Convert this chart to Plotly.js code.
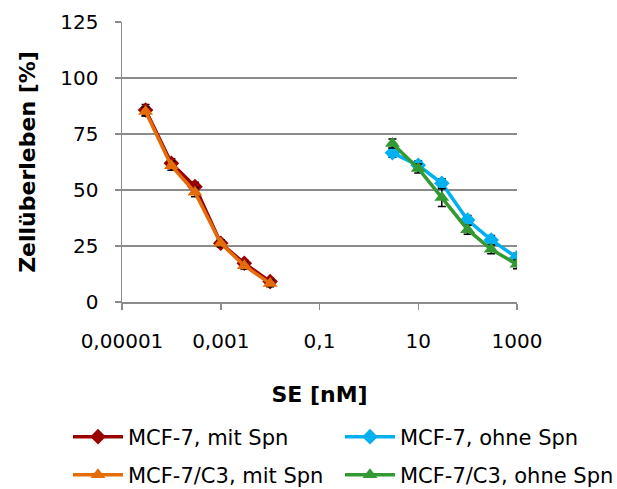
<!DOCTYPE html>
<html>
<head>
<meta charset="utf-8">
<script src="https://cdn.plot.ly/plotly-3.0.1.min.js"></script>
<style>html,body{margin:0;padding:0;background:#fff;}#chart{width:617px;height:489px;}</style>
</head>
<body>
<div id="chart"></div>
<script>
// Concentrations (nM)
const xMit = [3e-5, 1e-4, 3e-4, 1e-3, 3e-3, 1e-2];
const xOhne = [3, 10, 30, 100, 300, 1000];

// Survival (%)
const mcf7Mit = [85.7, 61.9, 51.5, 26.2, 17.3, 9.1];
const mcf7MitErr = [2.5, 2, 2, 1.5, 1.5, 1.5];
const mcf7Ohne = [66.6, 61.0, 53.0, 36.6, 27.7, 19.8];
const mcf7OhneErr = [2, 2, 2, 2, 2, 2];
const c3Mit = [85.0, 60.8, 49.0, 26.2, 16.2, 8.3];
const c3MitErr = [2, 2, 2, 1.5, 1.5, 1.5];
const c3Ohne = [70.8, 59.6, 46.6, 32.3, 23.5, 16.8];
const c3OhneErr = [2, 2, 4, 2, 2, 2];

const names = ["MCF-7, mit Spn", "MCF-7, ohne Spn", "MCF-7/C3, mit Spn", "MCF-7/C3, ohne Spn"];
const colors = ["#990000", "#00B0F0", "#E46C0A", "#339933"];

const xTickVals = [1e-5, 1e-3, 0.1, 10, 1000];
const xTickText = ["0,00001", "0,001", "0,1", "10", "1000"];
const yTickVals = [0, 25, 50, 75, 100, 125];

function tr(x, y, err, i, sym, size, leg) {
  return {
    x: x, y: y, name: names[i], type: "scatter", mode: "lines+markers",
    legend: leg,
    line: {color: colors[i], width: 3.5},
    marker: {symbol: sym, size: size, color: colors[i]},
    error_y: {type: "data", array: err, visible: true, color: "#000", thickness: 1.5, width: 4}
  };
}

const data = [
  tr(xMit, mcf7Mit, mcf7MitErr, 0, "diamond", 12, "legend"),
  tr(xOhne, mcf7Ohne, mcf7OhneErr, 1, "diamond", 12, "legend2"),
  tr(xMit, c3Mit, c3MitErr, 2, "triangle-up", 13, "legend3"),
  tr(xOhne, c3Ohne, c3OhneErr, 3, "triangle-up", 13, "legend4")
];

const font = "'DejaVu Sans', sans-serif";
function leg(px, py) {
  return {
    orientation: "h", xref: "container", yref: "container",
    x: px / 617, y: 1 - py / 489, xanchor: "left", yanchor: "middle",
    font: {size: 21, family: font}, itemwidth: 50, bgcolor: "rgba(0,0,0,0)"
  };
}
const layout = {
  width: 617, height: 489,
  margin: {l: 122, r: 100, t: 22, b: 187},
  paper_bgcolor: "#fff", plot_bgcolor: "#fff",
  font: {family: font, color: "#000", size: 20},
  showlegend: true,
  xaxis: {
    type: "log", range: [-5, 3],
    tickvals: xTickVals, ticktext: xTickText,
    showgrid: false, zeroline: false,
    showline: true, linecolor: "#8c8c8c", linewidth: 1.5,
    ticks: "outside", ticklen: 6, tickcolor: "#8c8c8c", tickwidth: 1.5,
    ticklabelstandoff: 14,
    tickfont: {size: 20, family: font},
    title: {text: "<b>SE [nM]</b>", font: {size: 22, family: font}, standoff: 35}
  },
  yaxis: {
    range: [0, 125], tickvals: yTickVals,
    showgrid: true, gridcolor: "#8c8c8c", gridwidth: 1.5,
    zeroline: false, showline: true, linecolor: "#8c8c8c", linewidth: 1.5,
    ticks: "outside", ticklen: 6, tickcolor: "#8c8c8c", tickwidth: 1.5,
    ticklabelstandoff: 12,
    tickfont: {size: 20, family: font},
    title: {text: "<b>Zellüberleben [%]</b>", font: {size: 22, family: font}, standoff: 18}
  },
  legend: leg(68, 437),
  legend2: leg(340, 437),
  legend3: leg(68, 475),
  legend4: leg(340, 475)
};

Plotly.newPlot("chart", data, layout, {displayModeBar: false, staticPlot: true});
</script>
</body>
</html>
